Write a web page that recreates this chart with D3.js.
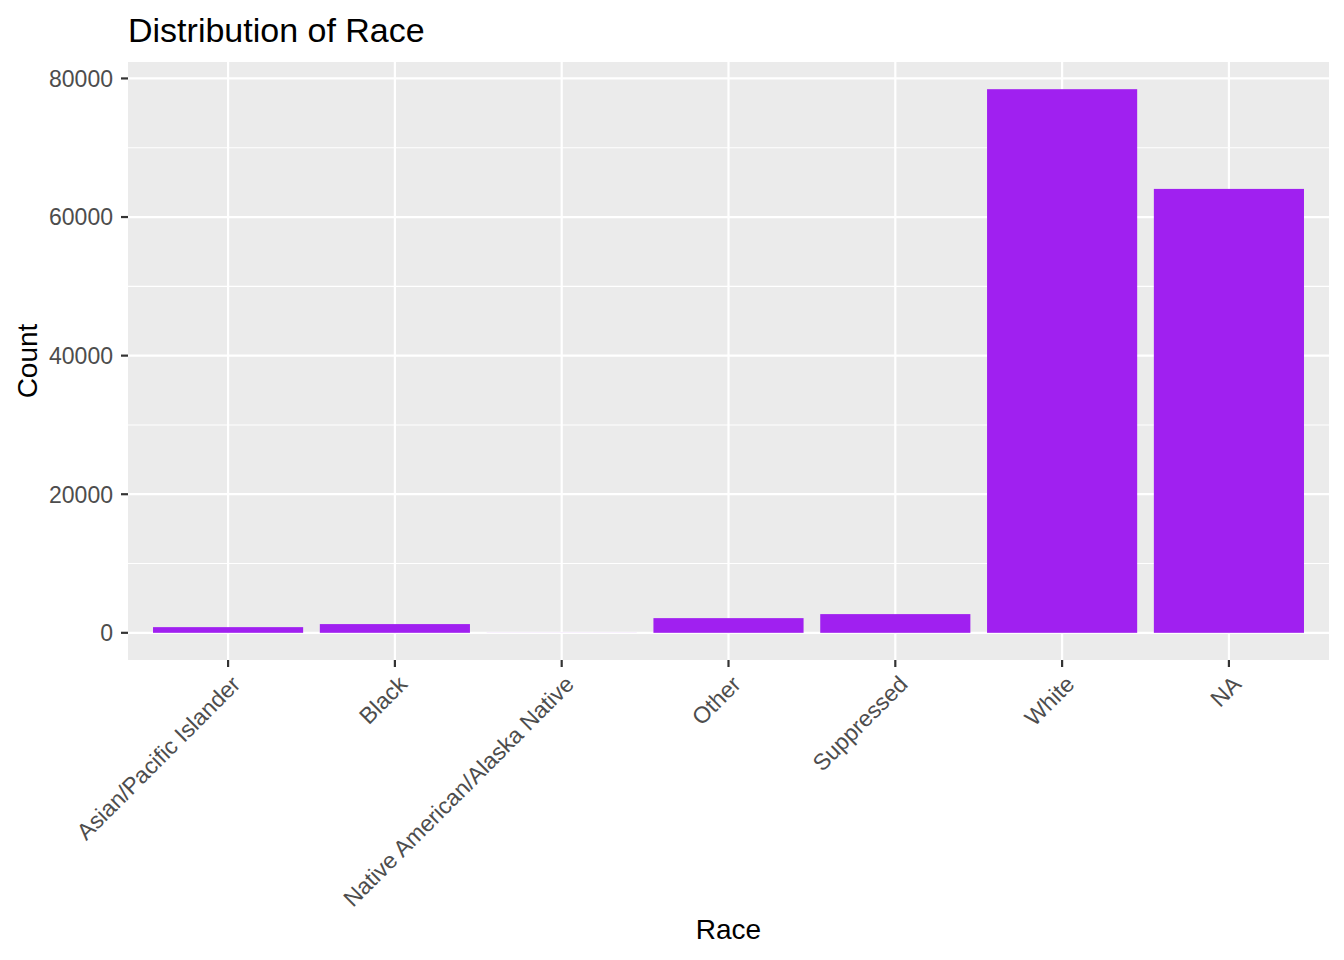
<!DOCTYPE html>
<html>
<head>
<meta charset="utf-8">
<script src="https://cdn.jsdelivr.net/npm/d3@7"></script>
<style>
  body { margin: 0; background: #fff; }
  svg { display: block; font-family: "Liberation Sans", Arial, sans-serif; }
</style>
</head>
<body>
<svg id="chart" width="1344" height="960"></svg>
<script>
const categories = ["Asian/Pacific Islander", "Black", "Native American/Alaska Native", "Other", "Suppressed", "White", "NA"];
const counts = [820, 1260, 10, 2120, 2700, 78450, 64060];
const yTicks = [0, 20000, 40000, 60000, 80000];
const yMinor = [10000, 30000, 50000, 70000];

const data = categories.map((c, i) => ({ cat: c, value: counts[i] }));

const svg = d3.select("#chart");
const panel = { left: 128, right: 1329, top: 62, bottom: 660 };

const maxV = d3.max(counts);
const y = d3.scaleLinear()
  .domain([-0.05 * maxV, 1.05 * maxV])
  .range([panel.bottom, panel.top]);

// ggplot discrete axis: 0.6 unit expansion each side, bar width 0.9
const x = d3.scalePoint()
  .domain(categories)
  .range([panel.left, panel.right])
  .padding(0.6);
const step = x.step();
const barW = 0.9 * step;

// panel background
svg.append("rect")
  .attr("x", panel.left).attr("y", panel.top)
  .attr("width", panel.right - panel.left).attr("height", panel.bottom - panel.top)
  .attr("fill", "#EBEBEB");

// minor gridlines
svg.append("g").selectAll("line").data(yMinor).join("line")
  .attr("x1", panel.left).attr("x2", panel.right)
  .attr("y1", d => y(d)).attr("y2", d => y(d))
  .attr("stroke", "#fff").attr("stroke-width", 1.1);

// major y gridlines
svg.append("g").selectAll("line").data(yTicks).join("line")
  .attr("x1", panel.left).attr("x2", panel.right)
  .attr("y1", d => y(d)).attr("y2", d => y(d))
  .attr("stroke", "#fff").attr("stroke-width", 2.2);

// major x gridlines
svg.append("g").selectAll("line").data(categories).join("line")
  .attr("x1", d => x(d)).attr("x2", d => x(d))
  .attr("y1", panel.top).attr("y2", panel.bottom)
  .attr("stroke", "#fff").attr("stroke-width", 2.2);

// bars
svg.append("g").selectAll("rect").data(data).join("rect")
  .attr("x", d => x(d.cat) - barW / 2)
  .attr("width", barW)
  .attr("y", d => y(Math.max(d.value, 0)))
  .attr("height", d => Math.abs(y(0) - y(d.value)))
  .attr("fill", "#A020F0");

// y axis ticks and labels
const yAx = svg.append("g");
yAx.selectAll("line").data(yTicks).join("line")
  .attr("x1", panel.left - 7).attr("x2", panel.left)
  .attr("y1", d => y(d)).attr("y2", d => y(d))
  .attr("stroke", "#333").attr("stroke-width", 2.2);
yAx.selectAll("text").data(yTicks).join("text")
  .attr("x", panel.left - 15)
  .attr("y", d => y(d))
  .attr("dy", "0.36em")
  .attr("text-anchor", "end")
  .attr("font-size", 23)
  .attr("fill", "#4D4D4D")
  .text(d => d3.format("d")(d));

// x axis ticks and labels
const xAx = svg.append("g");
xAx.selectAll("line").data(categories).join("line")
  .attr("x1", d => x(d)).attr("x2", d => x(d))
  .attr("y1", panel.bottom).attr("y2", panel.bottom + 7)
  .attr("stroke", "#333").attr("stroke-width", 2.2);
xAx.selectAll("text").data(categories).join("text")
  .attr("transform", d => `translate(${x(d) + 2},${panel.bottom + 14}) rotate(-45)`)
  .attr("dy", "0.72em")
  .attr("text-anchor", "end")
  .attr("font-size", 23)
  .attr("fill", "#4D4D4D")
  .text(d => d);

// title
svg.append("text")
  .attr("x", 128).attr("y", 42)
  .attr("font-size", 34)
  .attr("fill", "#000")
  .text("Distribution of Race");

// axis titles
svg.append("text")
  .attr("x", (panel.left + panel.right) / 2).attr("y", 939)
  .attr("text-anchor", "middle")
  .attr("font-size", 28)
  .attr("fill", "#000")
  .text("Race");

svg.append("text")
  .attr("transform", `translate(37,${(panel.top + panel.bottom) / 2}) rotate(-90)`)
  .attr("text-anchor", "middle")
  .attr("font-size", 28)
  .attr("fill", "#000")
  .text("Count");
</script>
</body>
</html>
